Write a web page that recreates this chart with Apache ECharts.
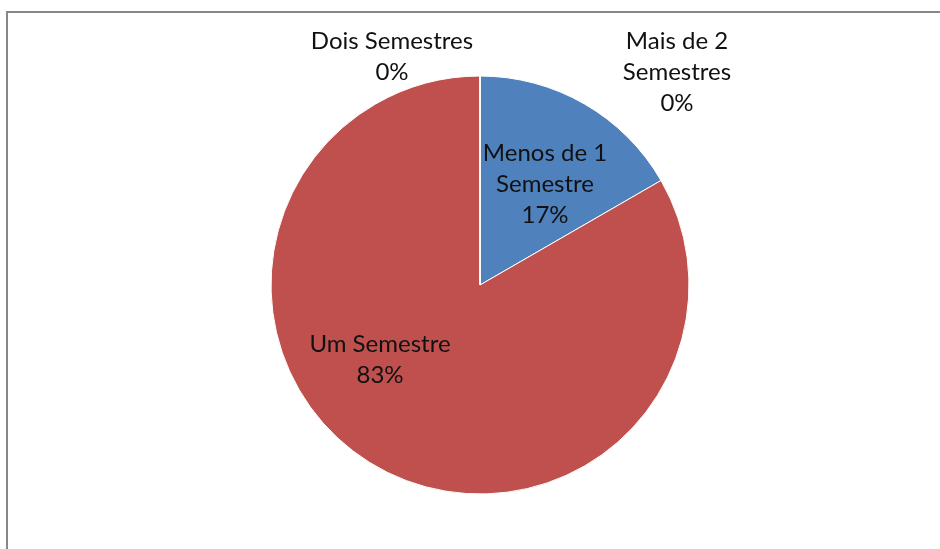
<!DOCTYPE html>
<html>
<head>
<meta charset="utf-8">
<script src="https://cdn.jsdelivr.net/npm/echarts@6/dist/echarts.min.js"></script>
<style>
  html, body { margin: 0; padding: 0; background: #fff; }
  .wrap { position: relative; width: 940px; height: 549px; overflow: hidden; }
  .frame {
    position: absolute; left: 6px; top: 11px; width: 960px; height: 560px;
    border-left: 2px solid #878787; border-top: 2px solid #878787;
  }
  #chart { position: absolute; left: 0; top: 0; width: 940px; height: 549px; }
</style>
</head>
<body>
<div class="wrap">
  <div class="frame"></div>
  <div id="chart"></div>
</div>
<script>
// dados
const categories = ['Menos de 1 Semestre', 'Um Semestre', 'Dois Semestres', 'Mais de 2 Semestres'];
const labelText = ['Menos de 1\nSemestre', 'Um Semestre', 'Dois Semestres', 'Mais de 2\nSemestres'];
const values = [1, 5, 0, 0];
const colors = ['#4F81BD', '#C0504D', '#9BBB59', '#8064A2'];

// onde fica cada rótulo (centro do bloco de texto)
const labelAt = [[545, 184], [380, 360], [392, 57], [677, 72]];

const chart = echarts.init(document.getElementById('chart'));
chart.setOption({
  animation: false,
  series: [{
    type: 'pie',
    center: [480, 285],
    radius: 209,
    startAngle: 90,
    clockwise: true,
    avoidLabelOverlap: false,
    itemStyle: { borderColor: '#fff', borderWidth: 1 },
    label: {
      show: true,
      position: 'inside',
      color: '#111',
      fontFamily: 'Lato, "Liberation Sans", sans-serif',
      fontSize: 24,
      lineHeight: 31,
      align: 'center',
      formatter: p => labelText[p.dataIndex] + '\n' + Math.round(p.percent) + '%'
    },
    labelLine: { show: false },
    labelLayout: p => ({
      x: labelAt[p.dataIndex][0],
      y: labelAt[p.dataIndex][1],
      align: 'center',
      verticalAlign: 'middle'
    }),
    emphasis: { disabled: true },
    data: categories.map((c, i) => ({
      name: c,
      value: values[i],
      itemStyle: { color: colors[i] }
    }))
  }]
});
</script>
</body>
</html>
